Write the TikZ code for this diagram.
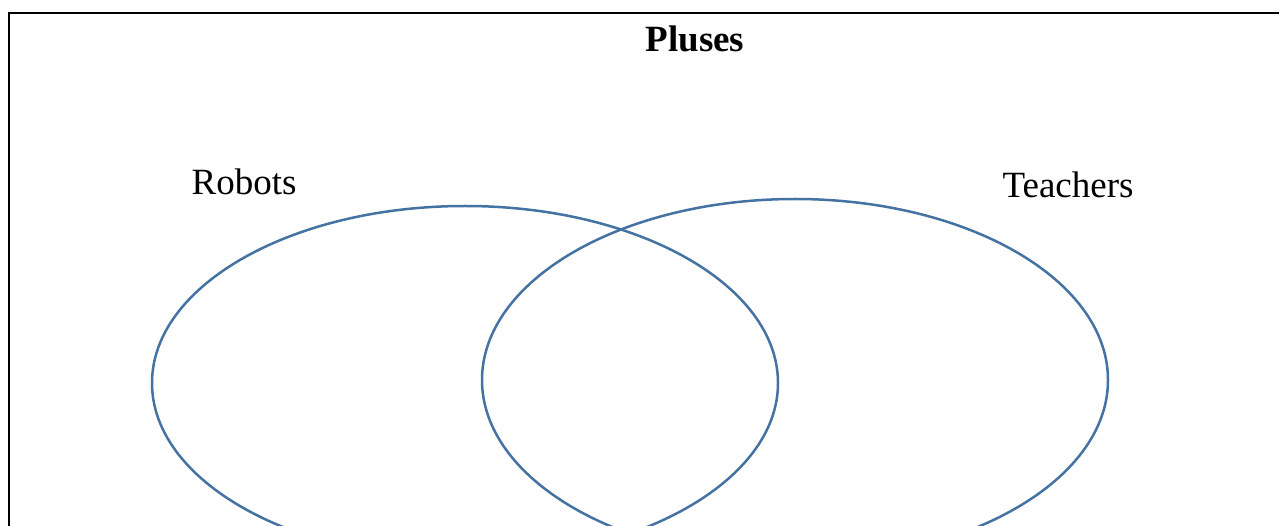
\documentclass[tikz,border=0pt]{standalone}
\usepackage{fontspec}
\setmainfont{Liberation Serif}
\usetikzlibrary{positioning}
\definecolor{setblue}{RGB}{68,114,162}
\tikzset{
    set/.style={
        draw=setblue,
        line width=2.5pt
    },
    set label/.style={
        font=\fontsize{37}{44}\selectfont,
        anchor=base,
        inner sep=0pt
    }
}

\begin{document}
\begin{tikzpicture}[
    x=1pt,
    y=-1pt
]

    \useasboundingbox (0,0) rectangle (1279,526);
    \clip (0,0) rectangle (1279,526);

    % Frame
    \draw[line width=2.4pt] (9,540) -- (9,13) -- (1290,13);

    % Sets
    \draw[set] (465,383) ellipse [x radius=313, y radius=177];
    \draw[set] (795,380) ellipse [x radius=313, y radius=181];

    % Labels
    \node[set label, font=\fontsize{37}{44}\selectfont\bfseries]
        (title) at (695,52) {Pluses};
    \node[set label] (robots)   at (244,195) {Robots};
    \node[set label] (teachers) at (1068,198) {Teachers};

\end{tikzpicture}
\end{document}
